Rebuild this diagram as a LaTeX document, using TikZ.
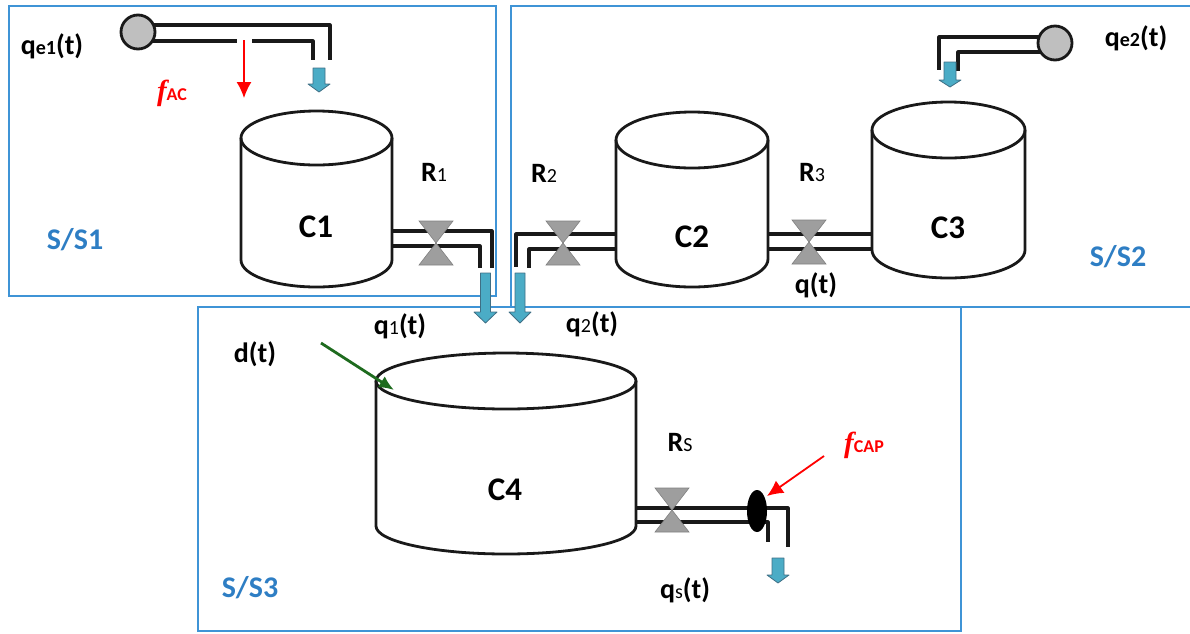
\documentclass[tikz,border=0pt]{standalone}
\usepackage{fontspec}
\usetikzlibrary{shapes.geometric,arrows.meta}
\setmainfont{Carlito}
\newfontfamily\faultfont{Liberation Serif}
\definecolor{frameBlue}{HTML}{3F94D6}
\definecolor{textBlue}{HTML}{2E7EC4}
\definecolor{flowBlue}{HTML}{4BACC6}
\definecolor{flowEdge}{HTML}{3F6F85}
\definecolor{valveGray}{HTML}{9E9E9E}
\definecolor{srcGray}{HTML}{BFBFBF}
\definecolor{distGreen}{HTML}{1E6B1E}
\begin{document}
\begin{tikzpicture}[x=1pt,y=-1pt,
    tankLine/.style={line width=2.8pt,black!90,line join=round},
    pipeLine/.style={line width=3.2pt,black!90,line join=round},
    frameBox/.style={draw=frameBlue,line width=1.3pt},
    srcBall/.style={circle,draw=black!90,fill=srcGray,line width=2.8pt,minimum size=34pt,inner sep=0pt},
    valveFill/.style={fill=valveGray,draw=gray,line width=0.6pt},
    lab/.style={font=\fontsize{28}{30}\selectfont\bfseries,inner sep=0pt,black},
    tankLab/.style={font=\fontsize{33}{36}\selectfont\bfseries,inner sep=0pt,black},
    subsysLab/.style={font=\fontsize{30}{32}\selectfont\bfseries,inner sep=0pt,textBlue},
    faultLab/.style={inner sep=0pt,red},
    faultArrow/.style={-{Latex[length=16pt,width=15pt]},line width=1.4pt,red},
]
\useasboundingbox (0,0) rectangle (1190,633);
% Frames
\draw[frameBox] (9,6) rectangle (496,296);
\draw[frameBox] (1192,6) -- (511,6) -- (511,307) -- (1192,307);
\draw[frameBox] (198,307) rectangle (961,631);
% Tanks
\foreach \tname/\cx/\cy/\rx/\ry/\ybot in {C1/316.5/138/75.5/27/287,C2/692/140/76/28/287,C3/948.5/130/76.5/28/278,C4/506/381/130/28/554}{
  \draw[tankLine] (\cx-\rx,\cy) arc[start angle=180,end angle=540,x radius=\rx,y radius=\ry];
  \draw[tankLine] (\cx-\rx,\cy) -- (\cx-\rx,\ybot-\ry) arc[start angle=180,end angle=0,x radius=\rx,y radius=\ry] -- (\cx+\rx,\cy);
}
\node[tankLab] (C1) at (316,227) {C1};
\node[tankLab] (C2) at (692,237) {C2};
\node[tankLab] (C3) at (948,228) {C3};
\node[tankLab] (C4) at (505,490) {C4};
% Pipes
\draw[pipeLine] (392,231) -- (492,231) -- (492,268);
\draw[pipeLine] (392,246) -- (480,246) -- (480,268);
\draw[pipeLine] (616,234) -- (516,234) -- (516,267);
\draw[pipeLine] (616,249) -- (529,249) -- (529,268);
\draw[pipeLine] (768,234) -- (872,234);
\draw[pipeLine] (768,249) -- (872,249);
\draw[pipeLine] (636,508) -- (788,508) -- (788,547);
\draw[pipeLine] (636,522) -- (768,522) -- (768,542);
% Sources
\draw[pipeLine] (150,25) -- (330,25) -- (330,60);
\draw[pipeLine] (150,41) -- (237,41);
\draw[pipeLine] (252,41) -- (313,41) -- (313,60);
\draw[pipeLine] (1050,37) -- (939,37) -- (939,70);
\draw[pipeLine] (1050,52) -- (958,52) -- (958,71);
\node[srcBall] (S1) at (138,32) {};
\node[srcBall] (S2) at (1055,43) {};
% Valves
\foreach \vx/\vy in {436/243,563/243,809/242,672/510}{
  \draw[valveFill] (\vx-17,\vy-22) -- (\vx+17,\vy-22) -- (\vx-17,\vy+22) -- (\vx+17,\vy+22) -- cycle;
}
% Sensor
\node[ellipse,fill=black,minimum width=20pt,minimum height=42pt,inner sep=0pt] (CAP) at (757,511) {};
% Flow arrows
\foreach \ax/\ytop/\yhead/\ytip/\ws/\wh in {319/68/84/92/6/11,950/62/80/87/6/11,485.5/273/312/323/5/11.5,520/273/312/323/5/11,778/558/575/583/6/11}{
  \draw[fill=flowBlue,draw=flowEdge,line width=0.8pt,line join=round] (\ax-\ws,\ytop) -- (\ax+\ws,\ytop) -- (\ax+\ws,\yhead) -- (\ax+\wh,\yhead) -- (\ax,\ytip) -- (\ax-\wh,\yhead) -- (\ax-\ws,\yhead) -- cycle;
}
% Faults and disturbance
\coordinate (acA) at (244,40);
\coordinate (acB) at (244,98);
\coordinate (capA) at (824,456);
\coordinate (capB) at (767,496);
\coordinate (distA) at (321,343);
\coordinate (distB) at (394,390);
\draw[faultArrow] (acA) -- (acB);
\draw[faultArrow,line width=1.8pt] (capA) -- (capB);
\draw[-{Latex[length=15pt,width=13pt]},line width=2.8pt,distGreen] (distA) -- (distB);
\node[faultLab] (fAC) at (172,93) {{\faultfont\fontsize{29}{30}\selectfont\bfseries\itshape f}{\fontsize{18}{20}\selectfont\bfseries AC}};
\node[faultLab] (fCAP) at (864,445) {{\faultfont\fontsize{29}{30}\selectfont\bfseries\itshape f}{\fontsize{18}{20}\selectfont\bfseries CAP}};
% Labels
\node[lab] (qe1) at (52,46) {q{\fontsize{20}{20}\selectfont e1}(t)};
\node[lab] (qe2) at (1136,38) {q{\fontsize{20}{20}\selectfont e2}(t)};
\node[lab] (R1) at (434,172) {R{\fontsize{20}{20}\selectfont\mdseries 1}};
\node[lab] (R2) at (544,173) {R{\fontsize{20}{20}\selectfont\mdseries 2}};
\node[lab] (R3) at (812,172) {R{\fontsize{20}{20}\selectfont\mdseries 3}};
\node[lab] (RS) at (680,442) {R{\fontsize{20}{20}\selectfont\mdseries S}};
\node[lab] (qt) at (816,285) {q(t)};
\node[lab] (q1) at (400,326) {q{\fontsize{20}{20}\selectfont\mdseries 1}(t)};
\node[lab] (q2) at (592,324) {q{\fontsize{20}{20}\selectfont\mdseries 2}(t)};
\node[lab] (qs) at (685,590) {q{\fontsize{20}{20}\selectfont\mdseries s}(t)};
\node[lab] (dt) at (255,354) {d(t)};
\node[subsysLab] (SS1) at (75,240) {S/S1};
\node[subsysLab] (SS2) at (1118,257) {S/S2};
\node[subsysLab] (SS3) at (250,588) {S/S3};
\end{tikzpicture}
\end{document}
